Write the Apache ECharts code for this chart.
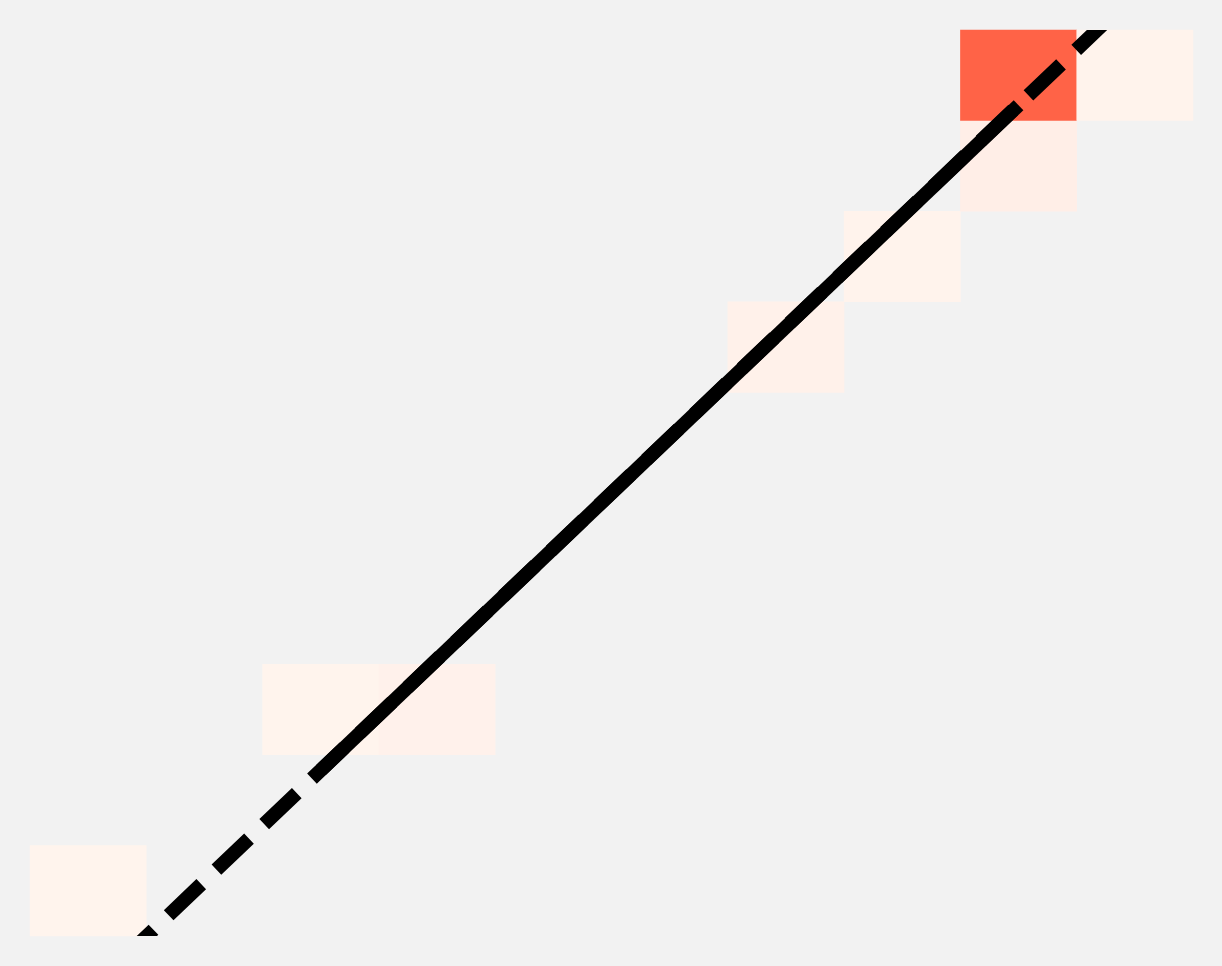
<!DOCTYPE html>
<html>
<head>
<meta charset="utf-8">
<script src="https://cdn.jsdelivr.net/npm/echarts@6/dist/echarts.min.js"></script>
<style>
html,body{margin:0;padding:0;background:#F2F2F2;}
#main{width:1222px;height:966px;}
</style>
</head>
<body>
<div id="main"></div>
<script>
// Categories (10 x 10 grid)
const xCategories = ['0','1','2','3','4','5','6','7','8','9'];
const yCategories = ['0','1','2','3','4','5','6','7','8','9'];
// Heatmap cells
const heatX = [0, 2, 3, 6, 7, 8, 8, 9];
const heatY = [0, 2, 2, 6, 7, 8, 9, 9];
const heatV = [1, 1, 2.5, 3, 1.5, 5, 100, 1.5];
// Trend line (dashed, full extent) and fitted segment (solid)
const trendX = [-0.5, 9.5];
const trendY = [-1.73, 10.51];
const fitX = [2, 8];
const fitY = [1.33, 8.67];

const heatData = heatX.map((x, i) => [x, heatY[i], heatV[i]]);
const trendData = trendX.map((x, i) => [x, trendY[i]]);
const fitData = fitX.map((x, i) => [x, fitY[i]]);

const LW = 14;
const half = LW / 2;
const cellW = 1163 / 10, cellH = 906 / 10;

const chart = echarts.init(document.getElementById('main'));
chart.setOption({
  backgroundColor: '#F2F2F2',
  animation: false,
  grid: [
    { left: 30, right: 29, top: 30, bottom: 30 },
    { left: 30 + half, right: 29 + half, top: 30 + half, bottom: 30 + half }
  ],
  xAxis: [
    { type: 'category', data: xCategories, gridIndex: 0, show: false },
    { type: 'value', min: -0.5 + half / cellW, max: 9.5 - half / cellW, gridIndex: 1, show: false }
  ],
  yAxis: [
    { type: 'category', data: yCategories, gridIndex: 0, show: false },
    { type: 'value', min: -0.5 + half / cellH, max: 9.5 - half / cellH, gridIndex: 1, show: false }
  ],
  visualMap: {
    show: false,
    min: 0,
    max: 100,
    seriesIndex: 0,
    inRange: { color: ['#FFF5EF', '#FF6347'] }
  },
  series: [
    {
      type: 'heatmap',
      xAxisIndex: 0,
      yAxisIndex: 0,
      data: heatData,
      itemStyle: { borderWidth: 0 },
      emphasis: { disabled: true }
    },
    {
      type: 'line',
      xAxisIndex: 1,
      yAxisIndex: 1,
      data: trendData,
      showSymbol: false,
      symbol: 'none',
      clip: true,
      silent: true,
      z: 3,
      lineStyle: { color: '#000', width: LW, type: [45, 21], dashOffset: 6.4, cap: 'butt' }
    },
    {
      type: 'line',
      xAxisIndex: 1,
      yAxisIndex: 1,
      data: fitData,
      showSymbol: false,
      symbol: 'none',
      clip: true,
      silent: true,
      z: 4,
      lineStyle: { color: '#000', width: LW, type: 'solid', cap: 'butt' }
    }
  ]
});
</script>
</body>
</html>
